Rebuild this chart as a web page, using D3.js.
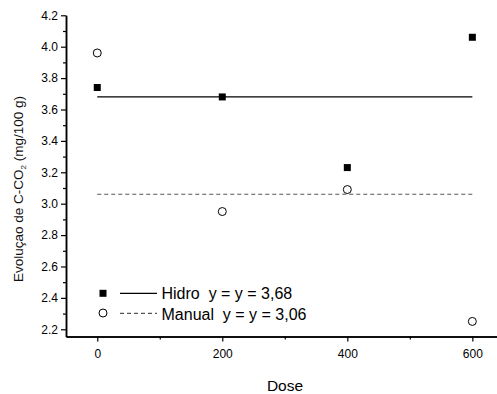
<!DOCTYPE html>
<html>
<head>
<meta charset="utf-8">
<script src="https://cdn.jsdelivr.net/npm/d3@7"></script>
<style>
  body { margin: 0; background: #fff; }
  svg { display: block; font-family: "Liberation Sans", Arial, sans-serif; }
  .leg-text { white-space: pre; }
</style>
</head>
<body>
<div id="chart"></div>
<script>
const doses = [0, 200, 400, 600]
const hidro = [3.74, 3.68, 3.23, 4.06]
const manual = [3.96, 2.95, 3.09, 2.25]
const hidroMean = 3.68
const manualMean = 3.06
const xTicks = [0, 200, 400, 600]
const xMinor = [100, 300, 500]
const yTicks = [2.2, 2.4, 2.6, 2.8, 3.0, 3.2, 3.4, 3.6, 3.8, 4.0, 4.2]
const yMinor = [2.3, 2.5, 2.7, 2.9, 3.1, 3.3, 3.5, 3.7, 3.9, 4.1]
const legendLabels = ["Hidro  y = y = 3,68", "Manual  y = y = 3,06"]

const width = 497, height = 394

const svg = d3.select("#chart").append("svg")
    .attr("width", width)
    .attr("height", height)

const x = d3.scaleLinear().domain([-50, 650]).range([66, 503.6])
const y = d3.scaleLinear().domain([2.154, 4.2]).range([336.5, 15.3])

// axes
const yAxis = d3.axisLeft(y).tickValues(yTicks).tickFormat(d3.format(".1f")).tickSize(5).tickSizeOuter(0).tickPadding(3)
const yAxisMinor = d3.axisLeft(y).tickValues(yMinor).tickFormat("").tickSize(3).tickSizeOuter(0)
const xAxis = d3.axisBottom(x).tickValues(xTicks).tickSize(5).tickSizeOuter(0).tickPadding(8)
const xAxisMinor = d3.axisBottom(x).tickValues(xMinor).tickFormat("").tickSize(3).tickSizeOuter(0)

svg.append("g").attr("transform", "translate(66,0)").call(yAxisMinor)
svg.append("g").attr("class", "axis").attr("transform", "translate(66,0)").call(yAxis)
svg.append("g").attr("transform", "translate(0,336.5)").call(xAxisMinor)
svg.append("g").attr("class", "axis").attr("transform", "translate(0,336.5)").call(xAxis)

svg.selectAll(".domain").attr("stroke", "#000").attr("stroke-width", 1.5)
svg.selectAll(".tick line").attr("stroke", "#000").attr("stroke-width", 1.2)
svg.selectAll(".axis text").attr("font-size", 12).attr("fill", "#000").attr("font-family", "Liberation Sans, Arial, sans-serif")

// axis titles
svg.append("text")
    .attr("x", 285).attr("y", 391)
    .attr("text-anchor", "middle")
    .attr("font-size", 15.5)
    .text("Dose")

const ylab = svg.append("text")
    .attr("transform", "translate(23,189) rotate(-90)")
    .attr("text-anchor", "middle")
    .attr("font-size", 13.5)
    .attr("fill", "#111")
ylab.append("tspan").text("Evoluçao de C-CO")
ylab.append("tspan").attr("font-size", 8).attr("dy", 3).text("2")
ylab.append("tspan").attr("dy", -3).text(" (mg/100 g)")

// mean lines
svg.append("line")
    .attr("x1", x(doses[0])).attr("x2", x(doses[doses.length - 1]))
    .attr("y1", y(hidroMean)).attr("y2", y(hidroMean))
    .attr("stroke", "#000").attr("stroke-width", 1.2)

svg.append("line")
    .attr("x1", x(doses[0])).attr("x2", x(doses[doses.length - 1]))
    .attr("y1", y(manualMean)).attr("y2", y(manualMean))
    .attr("stroke", "#555").attr("stroke-width", 1.2)
    .attr("stroke-dasharray", "4,3")

// points
svg.selectAll(".hidro")
    .data(doses.map((d, i) => ({dose: d, v: hidro[i]})))
    .enter().append("rect")
    .attr("class", "hidro")
    .attr("x", d => x(d.dose) - 3.5)
    .attr("y", d => y(d.v) - 3.5)
    .attr("width", 7).attr("height", 7)
    .attr("fill", "#000")

svg.selectAll(".manual")
    .data(doses.map((d, i) => ({dose: d, v: manual[i]})))
    .enter().append("circle")
    .attr("class", "manual")
    .attr("cx", d => x(d.dose))
    .attr("cy", d => y(d.v))
    .attr("r", 4)
    .attr("fill", "#fff")
    .attr("stroke", "#000")
    .attr("stroke-width", 1)

// legend
const leg = svg.append("g")
leg.append("rect").attr("x", 99.5).attr("y", 289.8).attr("width", 7).attr("height", 7).attr("fill", "#000")
leg.append("line").attr("x1", 120).attr("x2", 157).attr("y1", 293.3).attr("y2", 293.3)
    .attr("stroke", "#000").attr("stroke-width", 1.2)
leg.append("text").attr("class", "leg-text").attr("x", 161.5).attr("y", 298.5).attr("font-size", 16).text(legendLabels[0])

leg.append("circle").attr("cx", 103).attr("cy", 313).attr("r", 4)
    .attr("fill", "#fff").attr("stroke", "#000").attr("stroke-width", 1)
leg.append("line").attr("x1", 120).attr("x2", 157).attr("y1", 313.3).attr("y2", 313.3)
    .attr("stroke", "#555").attr("stroke-width", 1.2).attr("stroke-dasharray", "4,3")
leg.append("text").attr("class", "leg-text").attr("x", 161.5).attr("y", 319.5).attr("font-size", 16).text(legendLabels[1])
</script>
</body>
</html>
